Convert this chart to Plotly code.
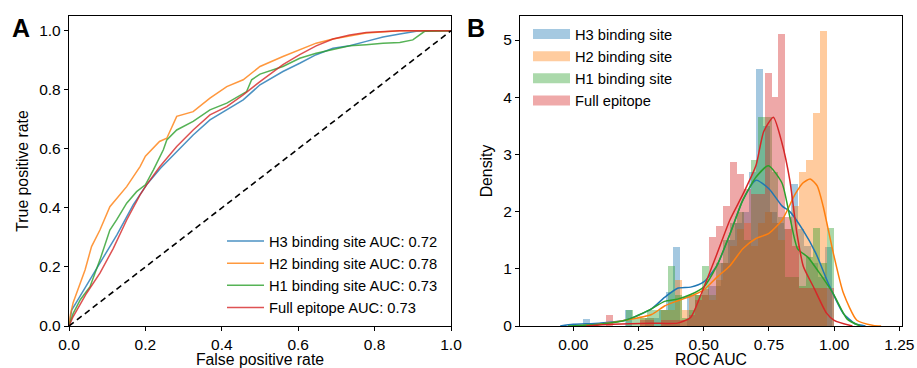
import plotly.graph_objects as go

# ---------------- Panel A: ROC curves ----------------
roc_names = ["H3 binding site AUC: 0.72", "H2 binding site AUC: 0.78",
             "H1 binding site AUC: 0.73", "Full epitope AUC: 0.73"]

h3_fpr = [0, 0.003, 0.007, 0.02, 0.046, 0.081, 0.125, 0.168, 0.203, 0.24, 0.282, 0.325, 0.369,
          0.413, 0.456, 0.5, 0.56, 0.604, 0.647, 0.691, 0.735, 0.778, 0.822, 0.866, 0.909, 0.95, 1.0]
h3_tpr = [0, 0.02, 0.054, 0.082, 0.139, 0.212, 0.308, 0.41, 0.478, 0.535, 0.59, 0.647, 0.698,
          0.732, 0.766, 0.817, 0.862, 0.89, 0.919, 0.941, 0.949, 0.964, 0.979, 0.989, 0.998, 1.0, 1.0]

h2_fpr = [0, 0.004, 0.011, 0.025, 0.042, 0.059, 0.081, 0.107, 0.13, 0.151, 0.186, 0.2, 0.237,
          0.256, 0.282, 0.325, 0.369, 0.413, 0.456, 0.5, 0.56, 0.604, 0.647, 0.691, 0.778, 0.866, 1.0]
h2_tpr = [0, 0.04, 0.08, 0.13, 0.19, 0.269, 0.325, 0.404, 0.44, 0.472, 0.54, 0.575, 0.625,
          0.636, 0.71, 0.726, 0.772, 0.811, 0.834, 0.879, 0.913, 0.936, 0.958, 0.972, 0.992, 1.0, 1.0]

h1_fpr = [0, 0.011, 0.03, 0.055, 0.081, 0.107, 0.125, 0.151, 0.177, 0.2, 0.221, 0.247, 0.256,
          0.282, 0.325, 0.369, 0.413, 0.465, 0.478, 0.5, 0.56, 0.604, 0.647, 0.691, 0.735, 0.778,
          0.822, 0.866, 0.9, 0.931, 1.0]
h1_tpr = [0, 0.043, 0.09, 0.133, 0.224, 0.325, 0.36, 0.416, 0.455, 0.478, 0.529, 0.597, 0.63,
          0.664, 0.693, 0.732, 0.755, 0.794, 0.834, 0.853, 0.879, 0.907, 0.924, 0.936, 0.949, 0.953,
          0.958, 0.96, 0.969, 0.998, 1.0]

full_fpr = [0, 0.011, 0.046, 0.081, 0.116, 0.151, 0.186, 0.203, 0.238, 0.282, 0.325, 0.369, 0.413,
            0.456, 0.5, 0.56, 0.604, 0.647, 0.691, 0.735, 0.778, 0.866, 1.0]
full_tpr = [0, 0.032, 0.111, 0.179, 0.263, 0.359, 0.444, 0.478, 0.54, 0.608, 0.664, 0.715, 0.743,
            0.783, 0.828, 0.885, 0.919, 0.949, 0.972, 0.986, 0.994, 1.0, 1.0]

chance_x = [0, 1]
chance_y = [0, 1]

# ---------------- Panel B: histograms (density) + KDE ----------------
hist_names = ["H3 binding site", "H2 binding site", "H1 binding site", "Full epitope"]
bin_width = 0.0265

h3_bin_start = 0.038
h3_density = [0.13, 0, 0, 0, 0, 0, 0.28, 0, 0, 0.14, 0.14, 0.28, 0.6, 1.38, 0, 0.55, 0.55, 0.55,
              0.7, 0.7, 1.1, 1.5, 1.8, 2.0, 2.7, 4.5, 3.5, 2.0, 1.8, 1.7, 2.48, 1.7, 1.4, 1.1, 0.85, 1.38]

h2_bin_start = 0.2565
h2_density = [0.14, 0.14, 0, 0.28, 0.28, 0.8, 0.28, 0.55, 0.55, 0.55, 0.45, 0.8, 1.1, 1.4, 1.7,
              1.8, 1.4, 1.8, 2.0, 1.8, 1.5, 1.7, 2.1, 2.7, 2.9, 3.73, 5.15]

h1_bin_start = 0.2035
h1_density = [0.28, 0.14, 0.14, 0.28, 0.28, 0.28, 1.05, 0.55, 0.14, 0.28, 0.55, 1.05, 0.55, 1.1,
              1.5, 1.8, 2.0, 1.5, 2.9, 3.65, 3.65, 2.7, 1.9, 0.85, 0.85, 0.7, 1.2, 1.72, 1.1, 1.72]

full_bin_start = 0.124
full_density = [0.2, 0, 0, 0, 0, 0.1, 0.1, 0, 0.1, 0.1, 0.1, 0.1, 0.2, 0.45, 0.65, 1.55, 1.75,
                2.1, 2.87, 2.66, 2.4, 2.3, 2.3, 4.43, 4.0, 5.1, 1.9, 1.4, 0.66, 0.66, 0.66, 0.66, 0.66]

h3_kde_x = [-0.05, 0.0, 0.1, 0.2, 0.3, 0.35, 0.4, 0.45, 0.5, 0.55, 0.6, 0.65, 0.7, 0.75, 0.8,
            0.83, 0.88, 0.93, 0.98, 1.035, 1.08, 1.12]
h3_kde_y = [0, 0.03, 0.05, 0.1, 0.3, 0.5, 0.66, 0.68, 0.77, 1.05, 1.6, 2.2, 2.55, 2.4, 2.1,
            2.0, 1.68, 1.27, 0.72, 0.22, 0.04, 0]

h2_kde_x = [0.0, 0.1, 0.2, 0.3, 0.35, 0.4, 0.45, 0.5, 0.55, 0.6, 0.65, 0.7, 0.75, 0.8, 0.85,
            0.88, 0.908, 0.935, 0.958, 0.997, 1.035, 1.087, 1.15, 1.18]
h2_kde_y = [0, 0.03, 0.1, 0.2, 0.35, 0.44, 0.52, 0.63, 0.85, 1.05, 1.35, 1.53, 1.62, 1.85, 2.3,
            2.5, 2.57, 2.45, 2.09, 1.27, 0.58, 0.1, 0.01, 0]

h1_kde_x = [-0.02, 0.1, 0.2, 0.3, 0.35, 0.4, 0.45, 0.5, 0.55, 0.6, 0.65, 0.7, 0.748, 0.8, 0.83,
            0.86, 0.9, 0.94, 0.996, 1.05, 1.1]
h1_kde_y = [0, 0.03, 0.1, 0.3, 0.43, 0.47, 0.55, 0.68, 1.05, 1.6, 2.2, 2.6, 2.8, 2.5, 1.91,
            1.35, 1.2, 0.95, 0.57, 0.12, 0]

full_kde_x = [0.05, 0.15, 0.3, 0.4, 0.45, 0.486, 0.55, 0.6, 0.65, 0.7, 0.73, 0.767, 0.8, 0.83,
              0.857, 0.882, 0.92, 0.97, 1.0, 1.07]
full_kde_y = [0, 0.03, 0.05, 0.05, 0.15, 0.51, 1.25, 1.85, 2.3, 2.8, 3.4, 3.65, 3.2, 2.55,
              1.63, 1.04, 0.69, 0.23, 0.1, 0]

colors = ["#1f77b4", "#ff7f0e", "#2ca02c", "#d62728"]

FONT = "Liberation Sans, Arial, sans-serif"
fig = go.Figure()

# Panel A traces
roc_sets = [(h3_fpr, h3_tpr), (h2_fpr, h2_tpr), (h1_fpr, h1_tpr), (full_fpr, full_tpr)]
for i, (fx, fy) in enumerate(roc_sets):
    fig.add_trace(go.Scatter(x=fx, y=fy, mode="lines", name=roc_names[i],
                             line=dict(color=colors[i], width=1.5), opacity=0.8,
                             xaxis="x", yaxis="y", legend="legend", legendgroup="a%d" % i))
fig.add_trace(go.Scatter(x=chance_x, y=chance_y, mode="lines", showlegend=False,
                         line=dict(color="black", width=1.6, dash="6px,4px"),
                         xaxis="x", yaxis="y"))

# Panel B traces
hist_sets = [(h3_bin_start, h3_density), (h2_bin_start, h2_density),
             (h1_bin_start, h1_density), (full_bin_start, full_density)]
kde_sets = [(h3_kde_x, h3_kde_y), (h2_kde_x, h2_kde_y), (h1_kde_x, h1_kde_y), (full_kde_x, full_kde_y)]
for i in range(4):
    start, dens = hist_sets[i]
    centers = [start + bin_width * (k + 0.5) for k in range(len(dens))]
    fig.add_trace(go.Bar(x=centers, y=dens, width=bin_width, marker=dict(color=colors[i], line=dict(width=0)),
                         opacity=0.4, showlegend=False, xaxis="x2", yaxis="y2"))
    kx, ky = kde_sets[i]
    fig.add_trace(go.Scatter(x=kx, y=ky, mode="lines", line=dict(color=colors[i], width=1.5, shape="spline", smoothing=0.6),
                             showlegend=False, xaxis="x2", yaxis="y2"))
# legend patches for panel B
for i in range(4):
    fig.add_trace(go.Scatter(x=[None], y=[None], mode="lines", name=hist_names[i],
                             line=dict(color=colors[i], width=10), opacity=0.4,
                             xaxis="x2", yaxis="y2", legend="legend2", legendgroup="b%d" % i))

axis_common = dict(showline=True, mirror=True, linecolor="black", linewidth=1.3,
                   ticks="outside", ticklen=4, tickwidth=1.1, tickcolor="black",
                   showgrid=False, zeroline=False, automargin=False,
                   tickfont=dict(family=FONT, size=15.5, color="black"))

fig.update_layout(
    width=917, height=368,
    margin=dict(l=0, r=0, t=0, b=0, autoexpand=False),
    paper_bgcolor="white", plot_bgcolor="white",
    barmode="overlay", bargap=0,
    font=dict(family=FONT, size=15.5, color="black"),
    xaxis=dict(domain=[69/917, 451/917], range=[0, 1], tickvals=[0, 0.2, 0.4, 0.6, 0.8, 1.0],
               tickformat=".1f", anchor="y",
               title=dict(text="False positive rate", font=dict(family=FONT, size=15.8), standoff=4),
               **axis_common),
    yaxis=dict(domain=[42/368, 352/368], range=[0, 1.05], tickvals=[0, 0.2, 0.4, 0.6, 0.8, 1.0],
               tickformat=".1f", anchor="x",
               title=dict(text="True positive rate", font=dict(family=FONT, size=15.8), standoff=6),
               **axis_common),
    xaxis2=dict(domain=[520/917, 902/917], range=[-0.204, 1.26], tickvals=[0, 0.25, 0.5, 0.75, 1.0, 1.25],
                tickformat=".2f", anchor="y2",
                title=dict(text="ROC AUC", font=dict(family=FONT, size=15.8), standoff=4),
                **axis_common),
    yaxis2=dict(domain=[42/368, 352/368], range=[0, 5.42], tickvals=[0, 1, 2, 3, 4, 5],
                tickformat="d", anchor="x2",
                title=dict(text="Density", font=dict(family=FONT, size=15.8), standoff=6),
                **axis_common),
    legend=dict(x=222/917, y=(368-225)/368, xanchor="left", yanchor="top", itemwidth=37,
                bgcolor="rgba(0,0,0,0)", borderwidth=0, traceorder="grouped", tracegroupgap=0,
                font=dict(family=FONT, size=14.7, color="black")),
    legend2=dict(x=528/917, y=(368-18)/368, xanchor="left", yanchor="top", itemwidth=37,
                 bgcolor="rgba(0,0,0,0)", borderwidth=0, traceorder="grouped", tracegroupgap=0,
                 font=dict(family=FONT, size=14.7, color="black")),
    annotations=[
        dict(text="<b>A</b>", x=10/917, y=(368-12)/368, xref="paper", yref="paper", showarrow=False,
             xanchor="left", yanchor="top", font=dict(family=FONT, size=25, color="black")),
        dict(text="<b>B</b>", x=465/917, y=(368-12)/368, xref="paper", yref="paper", showarrow=False,
             xanchor="left", yanchor="top", font=dict(family=FONT, size=25, color="black")),
    ],
)

fig.write_html("out.html")
